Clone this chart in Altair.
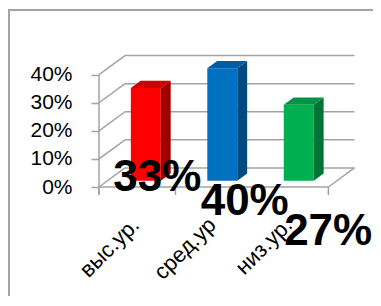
import json
import altair as alt
import pandas as pd

# ---- data ----
categories = ["выс.ур.", "сред.ур", "низ.ур."]
values = [0.33, 0.40, 0.27]
y_ticks = [0, 0.1, 0.2, 0.3, 0.4]
edges = [0, 1, 2, 3]

# ---- style ----
front_colors = ["#FF0000", "#0070C0", "#00B050"]
top_colors = ["#CC0000", "#005DA3", "#009444"]
side_colors = ["#A00000", "#004A80", "#007436"]
GRID = "#A3A3A3"
FONT = "Liberation Sans"
LABEL_DX = [20, 31, 38]
LABEL_DY = [4, 28, 58]

W, H = 260, 132
DX, DY = 0.34, 0.068      # depth vector in data units
HW = 0.196                # half bar width
F1, F2 = 0.33, 0.71       # depth fractions of bar front/back

df = pd.DataFrame({"i": list(range(len(categories))), "cat": categories, "v": values})
tdf = pd.DataFrame({"t": y_ticks})
edf = pd.DataFrame({"b": edges})
one = pd.DataFrame({"a": [0]})

xs = alt.Scale(domain=[0, 3.4], nice=False, zero=False)
ys = alt.Scale(domain=[0, 0.47], nice=False, zero=False)


def X(f, axis=None, **kw):
    return alt.X(f, type="quantitative", scale=xs, axis=axis, **kw)


def Y(f, axis=None, **kw):
    return alt.Y(f, type="quantitative", scale=ys, axis=axis, **kw)


yaxis = alt.Axis(values=y_ticks, format=".0%", domain=False, grid=False,
                 tickSize=8, tickColor=GRID, tickWidth=1.5,
                 labelFontSize=21, labelFont=FONT, labelColor="black",
                 labelPadding=19, title=None)

names_js = json.dumps(categories, ensure_ascii=False)
xaxis = alt.Axis(values=[0.5, 1.5, 2.5], labelExpr=f"{names_js}[floor(datum.value)]",
                 domain=False, grid=False, ticks=False, tickSize=0,
                 labelAngle=-45, labelAlign="right", labelBaseline="middle",
                 labelFontSize=22, labelFont=FONT, labelColor="black",
                 labelPadding=34, labelOffset=-2, labelOverlap=False,
                 labelFlush=False, labelBound=False, title=None)

frame = alt.Chart(one).mark_rect(filled=False, color=GRID, strokeWidth=2).encode(
    x=alt.value(-90), x2=alt.value(400), y=alt.value(-45), y2=alt.value(400))

back_grid = alt.Chart(tdf).transform_calculate(
    xa=f"{DX}", xb=f"{3 + DX}", yv=f"datum.t + {DY}"
).mark_rule(color=GRID, strokeWidth=1.5).encode(
    x=X("xa"), x2="xb", y=Y("yv"))

left_wall = alt.Chart(tdf).transform_calculate(
    xa="0", xb=f"{DX}", yv=f"datum.t + {DY}"
).mark_rule(color=GRID, strokeWidth=1.5).encode(
    x=X("xa", axis=xaxis), x2="xb", y=Y("t", axis=yaxis), y2="yv")

front_axis = alt.Chart(one).transform_calculate(xa="0", yt="0.4").mark_rule(
    color=GRID, strokeWidth=1.5).encode(x=X("xa"), y=Y("yt"), y2=alt.value(H + 8))

floor_front = alt.Chart(one).transform_calculate(xa="0", xb="3", y0="0").mark_rule(
    color=GRID, strokeWidth=1.5).encode(x=X("xa"), x2="xb", y=Y("y0"))

floor_right = alt.Chart(one).transform_calculate(xa="3", xb=f"{3 + DX}", y0="0", y1=f"{DY}").mark_rule(
    color=GRID, strokeWidth=1.5).encode(x=X("xa"), x2="xb", y=Y("y0"), y2="y1")

edge_ticks = alt.Chart(edf).transform_calculate(y0="0").mark_rule(
    color=GRID, strokeWidth=1.5).encode(x=X("b"), y=Y("y0"), y2=alt.value(H + 8))

front = alt.Chart(df).transform_calculate(
    xl=f"datum.i + 0.5 - {HW} + {F1 * DX}",
    xr=f"datum.i + 0.5 + {HW} + {F1 * DX}",
    yb=f"{F1 * DY}",
    yt=f"datum.v + {F1 * DY}",
).mark_rect().encode(
    x=X("xl"), x2="xr", y=Y("yb"), y2="yt",
    color=alt.Color("cat:N", scale=alt.Scale(domain=categories, range=front_colors), legend=None))

side = alt.Chart(df).transform_calculate(f=f"[{F1}, {F2}]").transform_flatten(["f"]).transform_calculate(
    sx=f"datum.i + 0.5 + {HW} + datum.f * {DX}",
    st=f"datum.v + datum.f * {DY}",
    sb=f"datum.f * {DY}",
).mark_area(orient="vertical", opacity=1).encode(
    x=X("sx"), y=Y("st", stack=None), y2="sb", detail="cat:N",
    color=alt.Color("cat:N", scale=alt.Scale(domain=categories, range=side_colors), legend=None))

top = alt.Chart(df).transform_calculate(f=f"[{F1}, {F2}]").transform_flatten(["f"]).transform_calculate(
    tl=f"datum.i + 0.5 - {HW} + datum.f * {DX}",
    tr=f"datum.i + 0.5 + {HW} + datum.f * {DX}",
    ty=f"datum.v + datum.f * {DY}",
).mark_area(orient="horizontal", opacity=1).encode(
    y=Y("ty"), x=X("tl", stack=None), x2="tr", detail="cat:N",
    color=alt.Color("cat:N", scale=alt.Scale(domain=categories, range=top_colors), legend=None))

labels = []
for k in range(len(categories)):
    labels.append(
        alt.Chart(df).transform_filter(f"datum.i == {k}").transform_calculate(
            cx="datum.i + 0.5", z="0"
        ).mark_text(font=FONT, fontSize=44, fontWeight="bold", color="black",
                    align="center", baseline="alphabetic",
                    dx=LABEL_DX[k], dy=LABEL_DY[k]).encode(
            x=X("cx"), y=Y("z"), text=alt.Text("v:Q", format=".0%"))
    )

chart = alt.layer(
    frame, back_grid, left_wall, front_axis, floor_front, floor_right, edge_ticks,
    front, side, top, *labels
).resolve_scale(color="independent").resolve_axis(x="independent", y="independent").properties(
    width=W, height=H,
    padding={"left": 91, "top": 47, "right": 14, "bottom": 109},
    autosize=alt.AutoSizeParams(type="none"),
).configure_view(strokeWidth=0)

chart.save("out.html", embed_options={"renderer": "svg", "actions": False})
